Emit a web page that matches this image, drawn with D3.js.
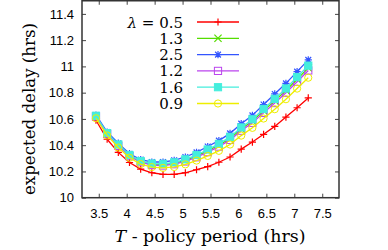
<!DOCTYPE html>
<html>
<head>
<meta charset="utf-8">
<script src="https://cdn.jsdelivr.net/npm/d3@7"></script>
<style>
  body { margin: 0; background: #fff; }
  svg { display: block; }
</style>
</head>
<body>
<div id="chart"></div>
<script>
// policy period T (hrs) at each sample
var periods = [3.45, 3.65, 3.85, 4.05, 4.25, 4.45, 4.65, 4.85, 5.05, 5.25,
               5.45, 5.65, 5.85, 6.05, 6.25, 6.45, 6.65, 6.85, 7.05, 7.25];

var lambdas = ['0.5', '1.3', '2.5', '1.2', '1.6', '0.9'];

var delay05 = [10.59, 10.445, 10.345, 10.268, 10.218, 10.19, 10.177, 10.177, 10.19, 10.213,
               10.237, 10.27, 10.31, 10.37, 10.424, 10.483, 10.543, 10.614, 10.685, 10.76];
var delay13 = [10.622, 10.488, 10.4, 10.321, 10.275, 10.255, 10.252, 10.262, 10.285, 10.317,
               10.358, 10.4, 10.452, 10.523, 10.584, 10.662, 10.738, 10.817, 10.902, 10.989];
var delay25 = [10.63, 10.5, 10.415, 10.335, 10.29, 10.272, 10.272, 10.285, 10.31, 10.345,
               10.39, 10.435, 10.49, 10.564, 10.627, 10.71, 10.79, 10.871, 10.96, 11.05];
var delay12 = [10.619, 10.485, 10.395, 10.316, 10.27, 10.249, 10.245, 10.255, 10.276, 10.308,
               10.347, 10.389, 10.44, 10.51, 10.57, 10.646, 10.721, 10.799, 10.883, 10.969];
var delay16 = [10.624, 10.492, 10.405, 10.325, 10.279, 10.26, 10.258, 10.269, 10.292, 10.325,
               10.367, 10.41, 10.463, 10.535, 10.597, 10.676, 10.753, 10.832, 10.919, 11.006];
var delay09 = [10.605, 10.474, 10.382, 10.304, 10.256, 10.233, 10.227, 10.234, 10.254, 10.283,
               10.318, 10.357, 10.405, 10.473, 10.532, 10.603, 10.674, 10.75, 10.831, 10.914];

var xTicks = [3.5, 4, 4.5, 5, 5.5, 6, 6.5, 7, 7.5];
var yTicks = [10, 10.2, 10.4, 10.6, 10.8, 11, 11.2, 11.4];

var series = [
  { lam: lambdas[0], values: delay05, color: '#ff0000', mark: 'plus' },
  { lam: lambdas[1], values: delay13, color: '#55dd00', mark: 'cross' },
  { lam: lambdas[2], values: delay25, color: '#3355ff', mark: 'star' },
  { lam: lambdas[3], values: delay12, color: '#bb44ee', mark: 'square' },
  { lam: lambdas[4], values: delay16, color: '#44eedd', mark: 'fsquare' },
  { lam: lambdas[5], values: delay09, color: '#eeee00', mark: 'circle' }
];

var W = 388, H = 250;
var plotL = 82, plotR = 339, plotT = 0.75, plotB = 197.7;

var svg = d3.select('#chart').append('svg')
  .attr('width', W).attr('height', H);

var x = d3.scaleLinear().domain([3.2, 7.8]).range([plotL, plotR]);
var y = d3.scaleLinear().domain([10, 11.5]).range([plotB, plotT]);

var tickFont = "'Liberation Sans', Arial, sans-serif";
var serif = "'DejaVu Serif', serif";

// axes, ticks pointing inward
function styleAxis(g) {
  g.select('.domain').remove();
  g.selectAll('.tick line').attr('stroke', '#444').attr('stroke-width', 1);
  g.selectAll('.tick text').attr('font-family', tickFont).attr('font-size', 13).attr('fill', '#000');
}

svg.append('g')
  .attr('transform', 'translate(0,' + plotB + ')')
  .call(d3.axisBottom(x).tickValues(xTicks).tickSize(-4).tickPadding(11).tickFormat(d3.format('')))
  .call(styleAxis);
svg.append('g')
  .attr('transform', 'translate(0,' + plotT + ')')
  .call(d3.axisTop(x).tickValues(xTicks).tickSize(-4).tickFormat(''))
  .call(styleAxis);
svg.append('g')
  .attr('transform', 'translate(' + plotL + ',0)')
  .call(d3.axisLeft(y).tickValues(yTicks).tickSize(-4).tickPadding(8).tickFormat(d3.format('')))
  .call(styleAxis);
svg.append('g')
  .attr('transform', 'translate(' + plotR + ',0)')
  .call(d3.axisRight(y).tickValues(yTicks).tickSize(-4).tickFormat(''))
  .call(styleAxis);

// frame
svg.append('rect')
  .attr('x', plotL).attr('y', plotT)
  .attr('width', plotR - plotL).attr('height', plotB - plotT)
  .attr('fill', 'none').attr('stroke', '#333').attr('stroke-width', 1.5);

// marker shapes
function markPath(kind, s) {
  if (kind == 'plus') return 'M' + (-s) + ',0H' + s + 'M0,' + (-s) + 'V' + s;
  if (kind == 'cross') return 'M' + (-s) + ',' + (-s) + 'L' + s + ',' + s + 'M' + (-s) + ',' + s + 'L' + s + ',' + (-s);
  if (kind == 'star') return markPath('plus', s) + markPath('cross', s * 0.8);
  return null;
}

function drawMark(g, kind, color, cx, cy) {
  var s = 3.6;
  if (kind == 'square' || kind == 'fsquare') {
    g.append('rect')
      .attr('x', cx - s).attr('y', cy - s).attr('width', 2 * s).attr('height', 2 * s)
      .attr('fill', kind == 'fsquare' ? color : 'none')
      .attr('stroke', color).attr('stroke-width', 1);
  } else if (kind == 'circle') {
    g.append('circle').attr('cx', cx).attr('cy', cy).attr('r', s)
      .attr('fill', 'none').attr('stroke', color).attr('stroke-width', 1);
  } else {
    g.append('path').attr('transform', 'translate(' + cx + ',' + cy + ')')
      .attr('d', markPath(kind, s)).attr('fill', 'none')
      .attr('stroke', color).attr('stroke-width', 1.2);
  }
}

var line = d3.line()
  .x(function (d, i) { return x(periods[i]); })
  .y(function (d) { return y(d); });

series.forEach(function (s) {
  var g = svg.append('g');
  g.append('path').datum(s.values)
    .attr('d', line).attr('fill', 'none')
    .attr('stroke', s.color).attr('stroke-width', 1.3);
  s.values.forEach(function (v, i) {
    drawMark(g, s.mark, s.color, x(periods[i]), y(v));
  });
});

// legend
var legY0 = 22, legDy = 16.3;
series.forEach(function (s, i) {
  var ly = legY0 + i * legDy;
  var t = svg.append('text')
    .attr('x', 183).attr('y', ly + 5.5)
    .attr('text-anchor', 'end')
    .attr('font-family', serif).attr('font-size', 15);
  if (i == 0) {
    t.append('tspan').attr('font-style', 'italic').text('λ');
    t.append('tspan').text(' = ' + s.lam);
  } else {
    t.text(s.lam);
  }
  svg.append('line')
    .attr('x1', 197).attr('x2', 239).attr('y1', ly).attr('y2', ly)
    .attr('stroke', s.color).attr('stroke-width', 1.3);
  drawMark(svg, s.mark, s.color, 218, ly);
});

// axis titles
svg.append('text')
  .attr('transform', 'translate(35,109) rotate(-90)')
  .attr('text-anchor', 'middle')
  .attr('font-family', serif).attr('font-size', 16)
  .attr('textLength', 172).attr('lengthAdjust', 'spacingAndGlyphs')
  .text('expected delay (hrs)');

var xl = svg.append('text')
  .attr('x', 210).attr('y', 242)
  .attr('text-anchor', 'middle')
  .attr('font-family', serif).attr('font-size', 16)
  .attr('textLength', 191).attr('lengthAdjust', 'spacingAndGlyphs');
xl.append('tspan').attr('font-style', 'italic').text('T');
xl.append('tspan').text(' - policy period (hrs)');
</script>
</body>
</html>
